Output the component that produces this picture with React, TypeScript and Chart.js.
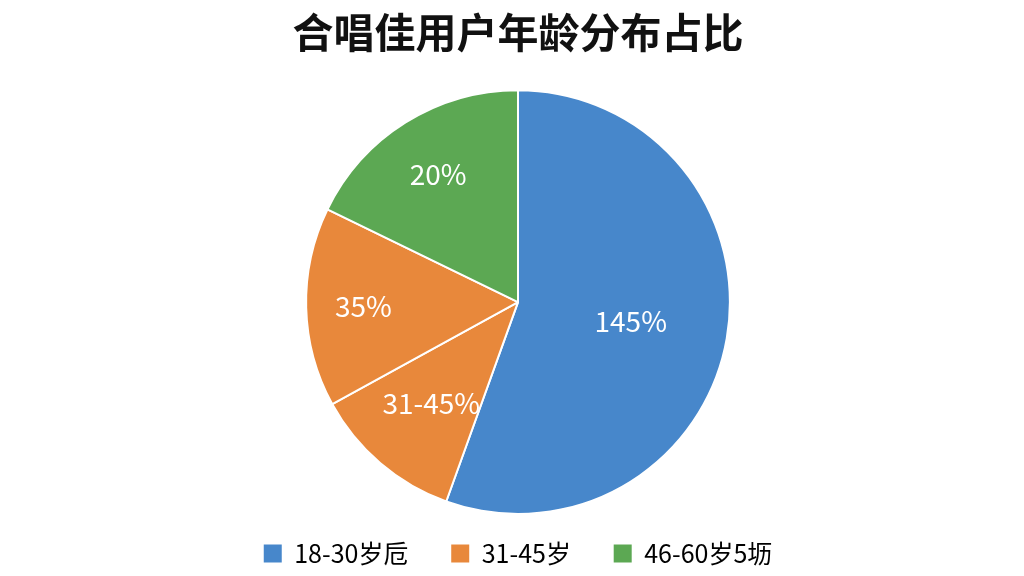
import { Chart, registerables } from 'chart.js'
import { useEffect, useRef } from 'react'

Chart.register(...registerables)

// 数据
const sliceNames = ['18-30岁', '31-45岁', '31-45岁', '46-60岁']
const sliceValues = [55.5, 11.5, 15.2, 17.8]
const sliceLabels = ['145%', '31-45%', '35%', '20%']
const sliceColors = ['#4787cb', '#e8883b', '#e8883b', '#5ca853']

const legendNames = ['18-30岁卮', '31-45岁', '46-60岁5坜']
const legendColors = ['#4787cb', '#e8883b', '#5ca853']

// 标签离圆心的相对距离
const labelRadius = [0.54, 0.63, 0.73, 0.71]

const FONT = '"Noto Sans CJK SC", "Noto Sans", sans-serif'

const sliceLabelPlugin = {
	id: 'sliceLabels',
	afterDatasetsDraw(chart: Chart) {
		const ctx = chart.ctx
		const meta = chart.getDatasetMeta(0)
		ctx.save()
		ctx.fillStyle = '#ffffff'
		ctx.font = `28px ${FONT}`
		ctx.textAlign = 'center'
		ctx.textBaseline = 'middle'
		meta.data.forEach((el: any, i: number) => {
			const { x, y, startAngle, endAngle, outerRadius } = el.getProps(
				['x', 'y', 'startAngle', 'endAngle', 'outerRadius'],
				true
			)
			const mid = (startAngle + endAngle) / 2
			const r = outerRadius * labelRadius[i]
			ctx.fillText(sliceLabels[i], x + Math.cos(mid) * r, y + Math.sin(mid) * r)
		})
		ctx.restore()
	}
}

export default function App() {
	const canvasRef = useRef<HTMLCanvasElement | null>(null)

	useEffect(() => {
		document.body.style.margin = '0'
		if (!canvasRef.current) return
		const chart = new Chart(canvasRef.current, {
			type: 'pie',
			data: {
				labels: sliceNames,
				datasets: [
					{
						data: sliceValues,
						backgroundColor: sliceColors,
						borderColor: '#ffffff',
						borderWidth: 2
					}
				]
			},
			options: {
				animation: false,
				responsive: true,
				maintainAspectRatio: false,
				layout: { padding: { left: 12, right: 0, top: 0, bottom: 0 } },
				plugins: {
					title: {
						display: true,
						text: '合唱佳用户年龄分布占比',
						color: '#111111',
						font: { family: FONT, size: 41, weight: 'bold' },
						padding: { top: 8, bottom: 32 }
					},
					legend: {
						position: 'bottom',
						labels: {
							boxWidth: 18,
							boxHeight: 18,
							padding: 26,
							color: '#1a1a1a',
							font: { family: FONT, size: 25 },
							// 最后一项不加空格，前两项补足间距
							generateLabels: () =>
								legendNames.map((name, i) => ({
									text: i < legendNames.length - 1 ? name + '   ' : name,
									fillStyle: legendColors[i],
									strokeStyle: legendColors[i],
									lineWidth: 0,
									hidden: false,
									index: i
								}))
						}
					},
					tooltip: { enabled: false }
				}
			},
			plugins: [sliceLabelPlugin]
		})
		return () => chart.destroy()
	}, [])

	return (
		<div style={{ width: 1024, height: 576, background: '#ffffff' }}>
			<canvas ref={canvasRef} />
		</div>
	)
}
